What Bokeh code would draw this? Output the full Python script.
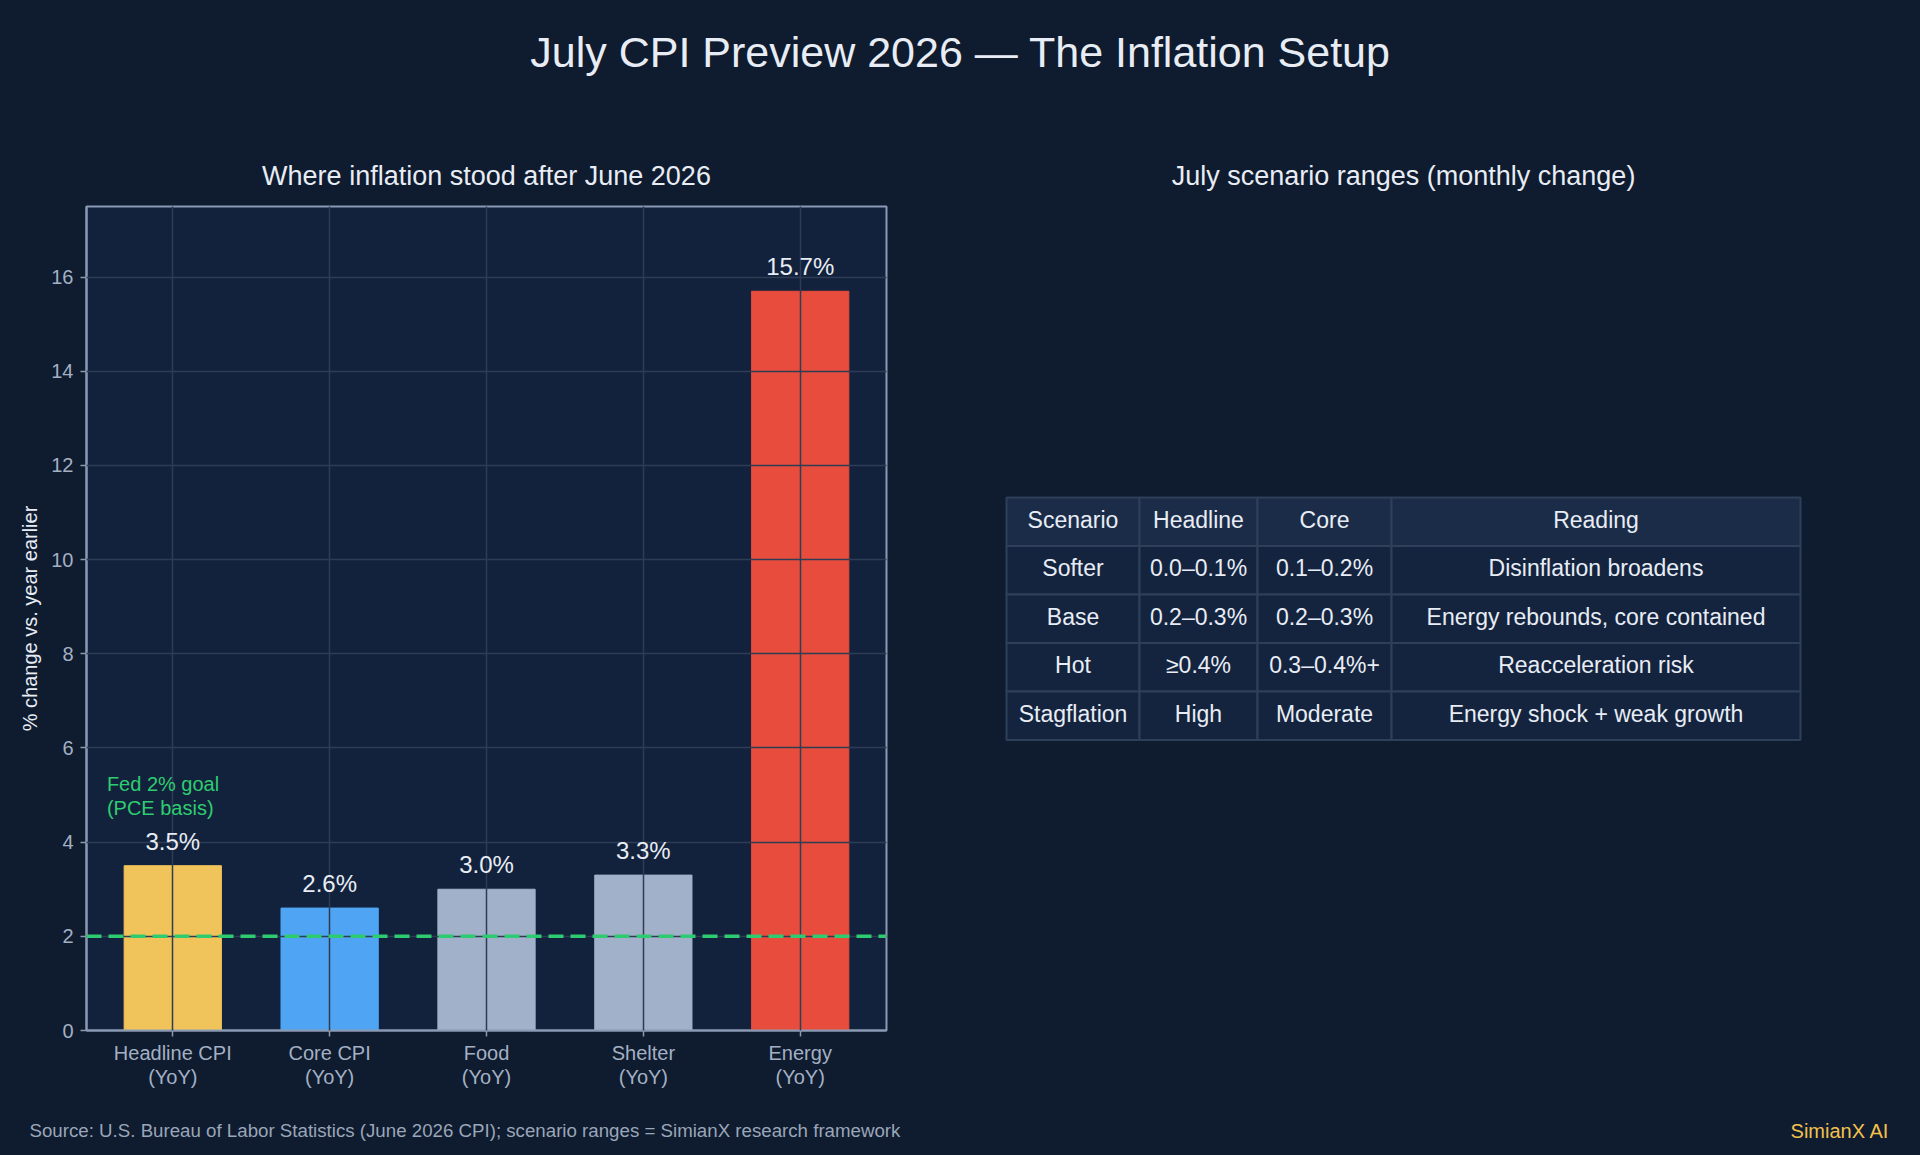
from bokeh.plotting import figure
from bokeh.models import ColumnDataSource, FactorRange, Range1d, FixedTicker, Span
from bokeh.layouts import column, row
from bokeh.embed import file_html
from bokeh.resources import INLINE
from bokeh.core.properties import value

# ---- data -------------------------------------------------------------
categories = ["Headline CPI\n(YoY)", "Core CPI\n(YoY)", "Food\n(YoY)",
              "Shelter\n(YoY)", "Energy\n(YoY)"]
yoy_change = [3.5, 2.6, 3.0, 3.3, 15.7]
fed_goal = 2.0
fed_goal_label = ["Fed 2% goal", "(PCE basis)"]

table_header = ["Scenario", "Headline", "Core", "Reading"]
scenario = ["Softer", "Base", "Hot", "Stagflation"]
headline_range = ["0.0–0.1%", "0.2–0.3%", "≥0.4%", "High"]
core_range = ["0.1–0.2%", "0.2–0.3%", "0.3–0.4%+", "Moderate"]
reading = ["Disinflation broadens", "Energy rebounds, core contained",
           "Reacceleration risk", "Energy shock + weak growth"]

main_title = "July CPI Preview 2026 — The Inflation Setup"
left_title = "Where inflation stood after June 2026"
right_title = "July scenario ranges (monthly change)"
source_note = ("Source: U.S. Bureau of Labor Statistics (June 2026 CPI); "
               "scenario ranges = SimianX research framework")
brand = "SimianX AI"

# ---- style --------------------------------------------------------------
FONT = "Liberation Sans"
BG = "#0f1b2e"
PLOT_BG = "#13223c"
GRID = "#2e3d54"
FRAME = "#8a9ab3"
TICK_TXT = "#a3b0c4"
TXT = "#e8edf5"
GREEN = "#2ecc71"
bar_colors = ["#f0c45a", "#4fa5f3", "#a0b1c9", "#a0b1c9", "#e74c3c"]
HEAD_BG = "#1b2c48"
CELL_BG = "#14243f"
CELL_LINE = "#2e4059"

W, H = 1920, 1155
TOP_H, MID_H = 200, 910
FOOT_H = H - TOP_H - MID_H
LEFT_W = 920
BG_STYLE = {"background-color": BG}


def blank(width, height, x0, x1, y0, y1):
    f = figure(width=width, height=height,
               x_range=Range1d(x0, x1), y_range=Range1d(y1, y0),
               toolbar_location=None, output_backend="svg", min_border=0,
               x_axis_location=None, y_axis_location=None,
               background_fill_color=BG, border_fill_color=BG,
               outline_line_color=None, frame_align=False, styles=BG_STYLE)
    f.grid.visible = False
    return f


# ---- heading strip ------------------------------------------------------
top = blank(W, TOP_H, 0, W, 0, TOP_H)
top.text(x=[960], y=[51], text=[main_title], text_font=value(FONT),
         text_font_size="43px", text_align="center", text_baseline="middle",
         text_color=TXT)
top.text(x=[486, 1403], y=[175, 175], text=[left_title, right_title],
         text_font=value(FONT), text_font_size="27px", text_align="center",
         text_baseline="middle", text_color=TXT)

# ---- bar chart ----------------------------------------------------------
src = ColumnDataSource(dict(
    cat=categories,
    val=yoy_change,
    color=bar_colors,
    lbl=[f"{v:.1f}%" for v in yoy_change],
    lbl_y=[v + 0.52 for v in yoy_change],
))

p = figure(width=LEFT_W, height=MID_H,
           x_range=FactorRange(factors=categories, range_padding=0.05,
                               range_padding_units="absolute"),
           y_range=Range1d(0, 17.5),
           toolbar_location=None, output_backend="svg",
           min_border_left=86, min_border_right=LEFT_W - 886,
           min_border_top=6, min_border_bottom=80,
           background_fill_color=PLOT_BG, border_fill_color=BG,
           outline_line_color=FRAME, outline_line_width=2,
           frame_align=False, styles=BG_STYLE)

p.vbar(x="cat", top="val", width=0.62, color="color", source=src)

p.grid.grid_line_color = GRID
p.grid.grid_line_width = 1.5
p.grid.level = "annotation"
p.ygrid.ticker = FixedTicker(ticks=list(range(0, 17, 2)))

p.add_layout(Span(location=fed_goal, dimension="width", line_color=GREEN,
                  line_width=3.5, line_dash="15 7"))

p.text(x="cat", y="lbl_y", text="lbl", source=src, text_font=value(FONT),
       text_font_size="24px", text_align="center",
       text_baseline="alphabetic", text_color=TXT, level="overlay")

p.text(x=[0.08, 0.08], y=[5.23, 4.73], text=fed_goal_label,
       text_font=value(FONT), text_font_size="20px", text_align="left",
       text_baseline="alphabetic", text_color=GREEN, level="overlay")

p.yaxis.ticker = FixedTicker(ticks=list(range(0, 17, 2)))
p.yaxis.axis_label = "% change vs. year earlier"
p.yaxis.axis_label_text_font = FONT
p.yaxis.axis_label_text_font_size = "20px"
p.yaxis.axis_label_text_font_style = "normal"
p.yaxis.axis_label_text_color = TXT
p.yaxis.axis_label_standoff = 7

for ax in (p.xaxis, p.yaxis):
    ax.axis_line_color = FRAME
    ax.axis_line_width = 2
    ax.major_tick_line_color = FRAME
    ax.major_tick_line_width = 1.5
    ax.major_tick_out = 6
    ax.major_tick_in = 0
    ax.minor_tick_line_color = None
    ax.major_label_text_font = FONT
    ax.major_label_text_font_size = "20px"
    ax.major_label_text_color = TICK_TXT
    ax.major_label_standoff = 7
p.xaxis.major_label_standoff = 5
p.xaxis.major_label_text_line_height = 1.1

# ---- scenario table -----------------------------------------------------
t = blank(W - LEFT_W, MID_H, LEFT_W, W, TOP_H, TOP_H + MID_H)

TABLE_LEFT, TABLE_TOP, ROW_H = 1006, 497, 48.5
COL_W = [133, 118, 134, 409]
col_edges = [TABLE_LEFT]
for w in COL_W:
    col_edges.append(col_edges[-1] + w)

rows = [table_header] + [list(r) for r in zip(scenario, headline_range,
                                              core_range, reading)]
cells = dict(l=[], r=[], t=[], b=[], fill=[], cx=[], cy=[], txt=[])
for i, cols in enumerate(rows):
    y_top = TABLE_TOP + i * ROW_H
    for j, txt in enumerate(cols):
        cells["l"].append(col_edges[j])
        cells["r"].append(col_edges[j + 1])
        cells["t"].append(y_top)
        cells["b"].append(y_top + ROW_H)
        cells["fill"].append(HEAD_BG if i == 0 else CELL_BG)
        cells["cx"].append((col_edges[j] + col_edges[j + 1]) / 2)
        cells["cy"].append(y_top + ROW_H / 2 - 2)
        cells["txt"].append(txt)
csrc = ColumnDataSource(cells)
t.quad(left="l", right="r", top="t", bottom="b", fill_color="fill",
       line_color=CELL_LINE, line_width=2, source=csrc)
t.text(x="cx", y="cy", text="txt", source=csrc, text_font=value(FONT),
       text_font_size="23px", text_align="center", text_baseline="middle",
       text_color=TXT)

# ---- footer ---------------------------------------------------------------
foot = blank(W, FOOT_H, 0, W, TOP_H + MID_H, H)
foot.text(x=[29], y=[1130], text=[source_note], text_font=value(FONT),
          text_font_size="18.7px", text_align="left", text_baseline="middle",
          text_color="#9aa6b9")
foot.text(x=[1889], y=[1130], text=[brand], text_font=value(FONT),
          text_font_size="20px", text_align="right", text_baseline="middle",
          text_color="#f2c14e")

layout = column(top, row(p, t, styles=BG_STYLE), foot, styles=BG_STYLE)
open("out.html", "w").write(file_html(layout, INLINE, title="July CPI Preview 2026"))
